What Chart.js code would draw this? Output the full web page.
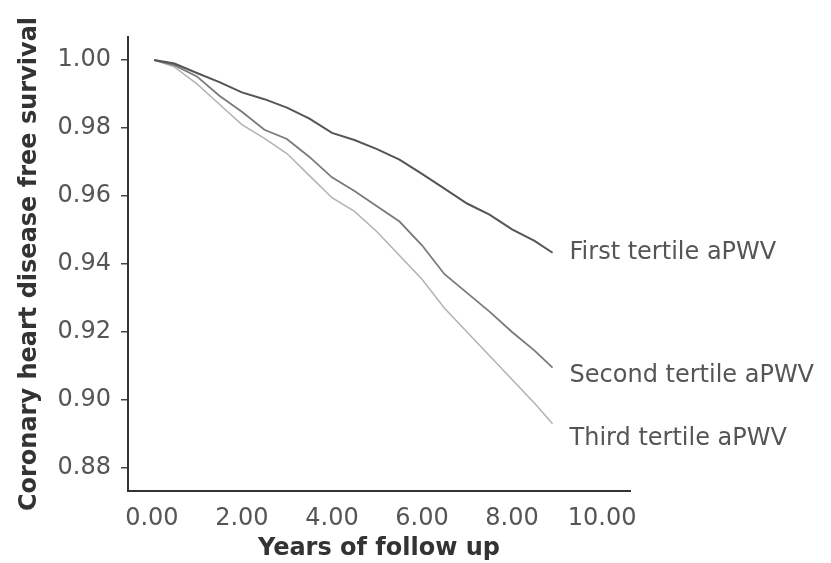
<!DOCTYPE html>
<html>
<head>
<meta charset="utf-8">
<script src="https://cdn.jsdelivr.net/npm/chart.js@4"></script>
<style>
  html, body { margin: 0; padding: 0; background: #fff; }
  #wrap { width: 831px; height: 563px; }
</style>
</head>
<body>
<div id="wrap"><canvas id="kmChart" width="831" height="563"></canvas></div>
<script>
    var years = [0.05, 0.5, 1.0, 1.5, 2.0, 2.5, 3.0, 3.5, 4.0, 4.5, 5.0, 5.5, 6.0, 6.5, 7.0, 7.5, 8.0, 8.5, 8.9];
    var firstTertile  = [1.000, 0.9990, 0.9962, 0.9935, 0.9905, 0.9885, 0.9860, 0.9828, 0.9786, 0.9765, 0.9738, 0.9707, 0.9665, 0.9622, 0.9578, 0.9545, 0.9502, 0.9468, 0.9433];
    var secondTertile = [1.000, 0.9985, 0.9952, 0.9895, 0.9848, 0.9795, 0.9768, 0.9715, 0.9655, 0.9615, 0.9570, 0.9525, 0.9455, 0.9370, 0.9315, 0.9260, 0.9200, 0.9145, 0.9095];
    var thirdTertile  = [1.000, 0.9980, 0.9930, 0.9870, 0.9810, 0.9770, 0.9725, 0.9660, 0.9595, 0.9555, 0.9495, 0.9425, 0.9355, 0.9270, 0.9200, 0.9130, 0.9060, 0.8990, 0.8930];
    var seriesNames = ['First tertile aPWV', 'Second tertile aPWV', 'Third tertile aPWV'];
    var xTicks = [0, 2, 4, 6, 8, 10];
    var yTicks = [0.88, 0.90, 0.92, 0.94, 0.96, 0.98, 1.00];

    var lineColors = ['#555555', '#7a7a7a', '#b2b2b2'];
    var lineWidths = [2, 1.8, 1.5];
    var labelNudge = [0, 8, 15];

    function toPoints(vals) {
        return years.map(function(x, i) { return { x: x, y: vals[i] }; });
    }

    // end-of-line labels, placed from the last point of each series
    var endLabels = {
        id: 'endLabels',
        afterDatasetsDraw: function(chart) {
            var ctx = chart.ctx;
            ctx.save();
            ctx.font = '24px "DejaVu Sans", sans-serif';
            ctx.fillStyle = '#555';
            ctx.textBaseline = 'middle';
            chart.data.datasets.forEach(function(ds, i) {
                var pts = chart.getDatasetMeta(i).data;
                var last = pts[pts.length - 1];
                ctx.fillText(ds.label, last.x + 17, last.y + labelNudge[i]);
            });
            ctx.restore();
        }
    };

    var tickFont = { family: '"DejaVu Sans", sans-serif', size: 24 };

    new Chart(document.getElementById('kmChart'), {
        type: 'line',
        data: {
            datasets: [firstTertile, secondTertile, thirdTertile].map(function(vals, i) {
                return {
                    label: seriesNames[i],
                    data: toPoints(vals),
                    borderColor: lineColors[i],
                    borderWidth: lineWidths[i],
                    pointRadius: 0,
                    tension: 0,
                    fill: false
                };
            })
        },
        options: {
            responsive: false,
            animation: false,
            layout: { padding: { top: 37, right: 201, left: 0, bottom: 0 } },
            plugins: { legend: { display: false }, tooltip: { enabled: false } },
            scales: {
                x: {
                    type: 'linear',
                    min: -0.53,
                    max: 10.62,
                    afterFit: function(s) { s.height = 72; },
                    afterBuildTicks: function(s) { s.ticks = xTicks.map(function(v) { return { value: v }; }); },
                    grid: { display: false },
                    border: { color: '#333', width: 2 },
                    ticks: {
                        font: tickFont,
                        color: '#555',
                        padding: 5,
                        maxRotation: 0,
                        callback: function(v) { return v.toFixed(2); }
                    },
                    title: {
                        display: true,
                        text: 'Years of follow up',
                        font: { family: '"DejaVu Sans", sans-serif', size: 24, weight: 'bold' },
                        color: '#333',
                        padding: { top: 0, bottom: 0 }
                    }
                },
                y: {
                    min: 0.8732,
                    max: 1.0068,
                    afterFit: function(s) { s.width = 128; },
                    afterBuildTicks: function(s) { s.ticks = yTicks.map(function(v) { return { value: v }; }); },
                    grid: { drawOnChartArea: false, tickLength: 7, color: '#444', lineWidth: 1.5 },
                    border: { color: '#333', width: 2 },
                    ticks: {
                        font: tickFont,
                        color: '#555',
                        padding: 10,
                        callback: function(v) { return v.toFixed(2); }
                    },
                    title: {
                        display: true,
                        text: 'Coronary heart disease free survival',
                        font: { family: '"DejaVu Sans", sans-serif', size: 24, weight: 'bold' },
                        color: '#333',
                        padding: { top: 15, bottom: 0 }
                    }
                }
            }
        },
        plugins: [endLabels]
    });
</script>
</body>
</html>
